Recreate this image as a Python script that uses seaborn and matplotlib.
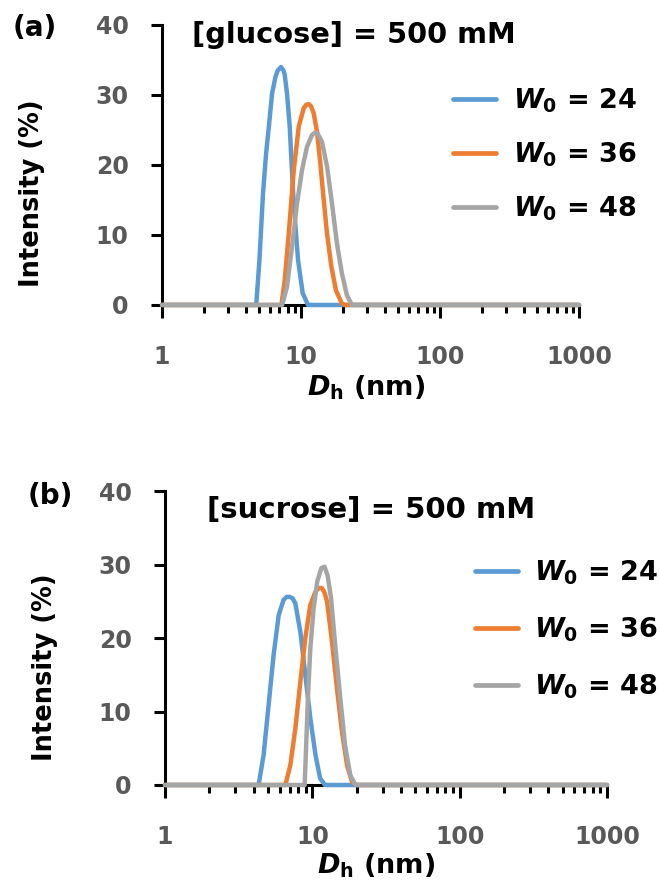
import matplotlib
matplotlib.use("Agg")
import matplotlib.pyplot as plt
from matplotlib.ticker import FixedLocator, FixedFormatter, NullFormatter, LogLocator
import numpy as np
import pandas as pd
import seaborn as sns

# ---- DLS size distributions (hydrodynamic diameter in nm, intensity in %) ----
# Panel (a): [glucose] = 500 mM
glc_w24_size = [1, 4.76, 5.02, 5.33, 5.61, 5.87, 6.19, 6.55, 6.80, 7.18, 7.48, 7.63, 7.93, 8.29, 8.77, 9.12, 9.52, 10.28, 11.22, 1000]
glc_w24_int = [0, 0, 6.4, 16.0, 21.7, 25.5, 30.2, 32.6, 33.5, 34.0, 33.5, 32.9, 30.2, 25.5, 16.0, 11.2, 6.4, 1.7, 0, 0]

glc_w36_size = [1, 7.23, 7.64, 8.16, 8.87, 9.63, 10.45, 10.90, 11.36, 11.80, 12.33, 13.03, 13.77, 14.56, 15.38, 16.53, 17.83, 19.68, 20.83, 1000]
glc_w36_int = [0, 0, 3.6, 10.2, 19.3, 25.5, 28.1, 28.6, 28.7, 28.4, 27.4, 24.8, 20.2, 15.0, 10.2, 5.5, 2.1, 0.2, 0, 0]

glc_w48_size = [1, 7.31, 7.93, 8.61, 9.36, 10.17, 11.04, 11.99, 12.60, 13.18, 14.16, 15.38, 16.70, 18.13, 19.68, 21.38, 23.22, 1000]
glc_w48_int = [0, 0, 2.6, 8.3, 14.5, 19.3, 22.6, 24.3, 24.6, 24.5, 23.3, 19.8, 14.5, 8.8, 4.5, 1.4, 0, 0]

# Panel (b): [sucrose] = 500 mM
suc_w24_size = [1, 4.32, 4.67, 5.05, 5.46, 5.91, 6.38, 6.70, 7.01, 7.35, 7.67, 8.30, 8.96, 9.69, 10.5, 11.3, 12.2, 1000]
suc_w24_int = [0, 0, 4.1, 10.9, 17.7, 23.1, 25.2, 25.6, 25.6, 25.4, 24.7, 20.8, 15.0, 9.1, 4.1, 0.9, 0, 0]

suc_w36_size = [1, 6.56, 7.09, 7.67, 8.30, 8.96, 9.69, 10.5, 11.05, 11.6, 12.1, 12.6, 13.6, 14.7, 15.9, 17.2, 18.6, 20.1, 1000]
suc_w36_int = [0, 0, 2.7, 7.7, 14.1, 20.0, 24.5, 26.3, 26.8, 26.8, 26.2, 24.9, 19.5, 13.1, 7.2, 2.7, 0.4, 0, 0]

suc_w48_size = [1, 8.87, 9.10, 9.35, 9.69, 10.2, 10.8, 11.5, 12.1, 12.7, 13.4, 14.3, 15.5, 16.7, 18.1, 19.6, 1000]
suc_w48_int = [0, 0, 5.9, 12.2, 18.6, 24.0, 27.7, 29.5, 29.7, 28.5, 25.4, 19.0, 11.7, 5.3, 1.3, 0, 0]

w0_labels = [r"$\mathit{W}_{\mathrm{0}}$ = 24", r"$\mathit{W}_{\mathrm{0}}$ = 36", r"$\mathit{W}_{\mathrm{0}}$ = 48"]
line_colors = ["#5B9BD5", "#ED7D31", "#A5A5A5"]
x_tick_values = [1, 10, 100, 1000]
x_tick_labels = ["1", "10", "100", "1000"]
y_tick_values = [0, 10, 20, 30, 40]
panel_titles = ["[glucose] = 500 mM", "[sucrose] = 500 mM"]
panel_tags = ["(a)", "(b)"]


def long_frame(sizes, intensities):
    frames = []
    for lab, s, v in zip(w0_labels, sizes, intensities):
        frames.append(pd.DataFrame({"size": s, "intensity": v, "W0": lab}))
    return pd.concat(frames, ignore_index=True)


sns.set_theme(style="ticks")
plt.rcParams["font.family"] = ["DejaVu Sans"]
plt.rcParams["font.weight"] = "bold"
plt.rcParams["text.color"] = "black"
plt.rcParams["axes.labelcolor"] = "black"
plt.rcParams["mathtext.fontset"] = "custom"
plt.rcParams["mathtext.it"] = "DejaVu Sans:italic:bold"
plt.rcParams["mathtext.rm"] = "DejaVu Sans:bold"
plt.rcParams["mathtext.bf"] = "DejaVu Sans:bold"

fig = plt.figure(figsize=(6.6, 8.86), dpi=100)
ax_a = fig.add_axes([0.2455, 0.6558, 0.6318, 0.3160])
ax_b = fig.add_axes([0.2500, 0.1140, 0.6697, 0.3318])

df_a = long_frame([glc_w24_size, glc_w36_size, glc_w48_size], [glc_w24_int, glc_w36_int, glc_w48_int])
df_b = long_frame([suc_w24_size, suc_w36_size, suc_w48_size], [suc_w24_int, suc_w36_int, suc_w48_int])

panels = [
    # axes, data, title pos, title size, legend anchor, legend spacing, ylabel x, xlabel pos
    (ax_a, df_a, (0.072, 0.964), 20.8, (0.698, 0.782), 0.95, -0.28, (0.489, -0.296)),
    (ax_b, df_b, (0.095, 0.935), 21.0, (0.701, 0.769), 1.05, -0.242, (0.477, -0.276)),
]

for i, (ax, df, tpos, tsize, lpos, lspace, ylx, xlpos) in enumerate(panels):
    sns.lineplot(data=df, x="size", y="intensity", hue="W0", hue_order=w0_labels,
                 palette=line_colors, estimator=None, sort=False, linewidth=3.2,
                 ax=ax, clip_on=False, solid_capstyle="round", solid_joinstyle="round")
    ax.set_xscale("log")
    ax.set_xlim(1, 1000)
    ax.set_ylim(0, 40)

    ax.xaxis.set_major_locator(FixedLocator(x_tick_values))
    ax.xaxis.set_major_formatter(FixedFormatter(x_tick_labels))
    ax.xaxis.set_minor_locator(LogLocator(base=10, subs=np.arange(2, 10)))
    ax.xaxis.set_minor_formatter(NullFormatter())
    ax.yaxis.set_major_locator(FixedLocator(y_tick_values))

    for side in ("top", "right"):
        ax.spines[side].set_visible(False)
    for side in ("left", "bottom"):
        ax.spines[side].set_linewidth(2.2)
        ax.spines[side].set_color("black")
        ax.spines[side].set_zorder(1)

    ax.tick_params(axis="y", which="major", left=True, direction="out", length=8, width=2.2,
                   color="black", pad=16, labelsize=17, labelcolor="#595959")
    ax.tick_params(axis="x", which="major", bottom=True, direction="out", length=9, width=2.2,
                   color="black", pad=20, labelsize=17, labelcolor="#595959")
    ax.tick_params(axis="x", which="minor", bottom=True, direction="out", length=6, width=2.2,
                   color="black")
    for lbl in ax.get_xticklabels() + ax.get_yticklabels():
        lbl.set_fontweight("bold")

    ax.set_ylabel("Intensity (%)", fontsize=18.5, fontweight="bold", color="black")
    ax.yaxis.set_label_coords(ylx, 0.40)
    ax.set_xlabel(r"$\mathit{D}_{\mathrm{h}}$ (nm)", fontsize=19.5, fontweight="bold", color="black")
    ax.xaxis.set_label_coords(*xlpos)
    ax.xaxis.label.set_verticalalignment("center")

    ax.text(tpos[0], tpos[1], panel_titles[i], transform=ax.transAxes, fontsize=tsize,
            fontweight="bold", color="black", ha="left", va="center")

    handles, labels = ax.get_legend_handles_labels()
    leg = ax.legend(handles, labels, loc="upper left", bbox_to_anchor=lpos,
                    frameon=False, fontsize=19.5, handlelength=1.6, handletextpad=0.6,
                    labelspacing=lspace, borderpad=0, borderaxespad=0)
    for h in leg.get_lines():
        h.set_linewidth(3.4)
    for t in leg.get_texts():
        t.set_fontweight("bold")
        t.set_color("black")

fig.text(35 / 660, 1 - 28 / 886, panel_tags[0], fontsize=20, fontweight="bold",
         ha="center", va="center", color="black")
fig.text(50 / 660, 1 - 496 / 886, panel_tags[1], fontsize=20, fontweight="bold",
         ha="center", va="center", color="black")

fig.savefig("out.png", dpi=100, facecolor="white")
